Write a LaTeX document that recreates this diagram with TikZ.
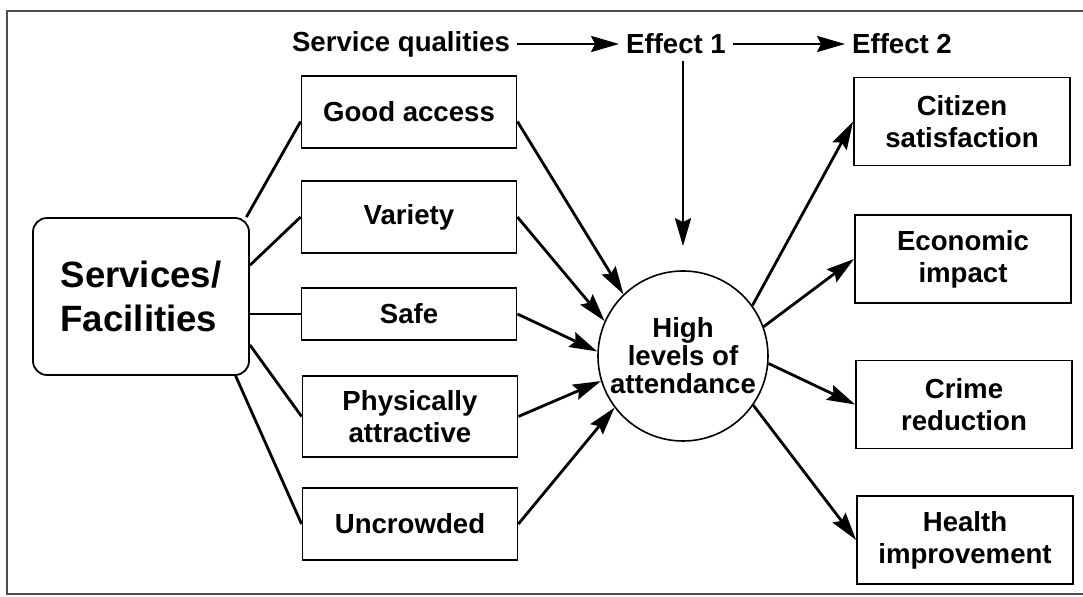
\documentclass[tikz,border=0pt]{standalone}
\usepackage{fontspec}
\setmainfont{Liberation Sans}
\usetikzlibrary{arrows.meta}
\usetikzlibrary{shapes,positioning,calc}
\tikzstyle{box} = [rectangle, minimum width=107.5pt, minimum height=36pt, text centered, align=center, draw=black, line width=0.9pt, inner sep=2pt, font=\fontsize{13.8}{16}\selectfont\bfseries]
\tikzstyle{effbox} = [box, minimum width=108pt, minimum height=44pt]
\tikzstyle{lbl} = [font=\fontsize{13.8}{16}\selectfont\bfseries]
\tikzstyle{link} = [line width=1.4pt]
\tikzstyle{arr} = [line width=1.4pt, -{Stealth[length=14pt, width=8pt, inset=2pt]}]

\begin{document}
\begin{tikzpicture}[x=0.5pt, y=-0.5pt]
				\useasboundingbox (0,0) rectangle (1083,597);
				\draw[line width=0.7pt, black!70] (1083,11) -- (7,11) -- (7,594) -- (1083,594);
				
				\node[box, rounded corners=7pt, align=left, minimum width=108pt, minimum height=78.5pt,
					font=\fontsize{18.3}{22}\selectfont\bfseries] (sf) at (141,296.5) {Services/\\Facilities};
				
				\node[box] (ga) at (409,112) {Good access};
				\node[box] (va) at (409,217) {Variety};
				\node[box, minimum height=26pt] (sa) at (409,314) {Safe};
				\node[box, minimum height=40.5pt] (pa) at (410,416.5) {Physically\\attractive};
				\node[box] (uc) at (410,524) {Uncrowded};
				
				\node[circle, draw=black, line width=0.8pt, minimum size=85pt, inner sep=0pt, align=center,
					font=\fontsize{13.8}{14}\selectfont\bfseries] (hla) at (683,356) {High\\levels of\\attendance};
				
				\node[effbox] (cs) at (962,121.5) {Citizen\\satisfaction};
				\node[effbox] (ei) at (963,259) {Economic\\impact};
				\node[effbox] (cr) at (964,404.5) {Crime\\reduction};
				\node[effbox] (hi) at (965,540) {Health\\improvement};
				
				\node[lbl] (sq) at (401,44) {Service qualities};
				\node[lbl] (e1) at (676,44) {Effect 1};
				\node[lbl] (e2) at (902,44) {Effect 2};
				
				\draw[arr] (sq) -- (e1);
				\draw[arr] (e1) -- (e2);
				\draw[arr, shorten >=12pt] (e1.south -| hla) -- (hla.north);
				
				\draw[link] (sf.37) -- (ga.185);
				\draw[link] (sf.16) -- (va.west);
				\draw[link] (sa.west -| sf.east) -- (sa.west);
				\draw[link] (sf.-24) -- (pa.west);
				\draw[link] (sf.-40) -- (uc.west);
				
				\draw[arr] (ga.-5) -- (hla.134);
				\draw[arr] (va.east) -- (hla.156);
				\draw[arr] (sa.east) -- (hla.177);
				\draw[arr] (pa.east) -- (hla.197);
				\draw[arr] (uc.east) -- (hla.217);
				
				\draw[arr] (hla.36) -- (cs.west);
				\draw[arr] (hla.20) -- (ei.west);
				\draw[arr] (hla.-5) -- (cr.west);
				\draw[arr] (hla.-35) -- (hi.west);
			\end{tikzpicture}
\end{document}
